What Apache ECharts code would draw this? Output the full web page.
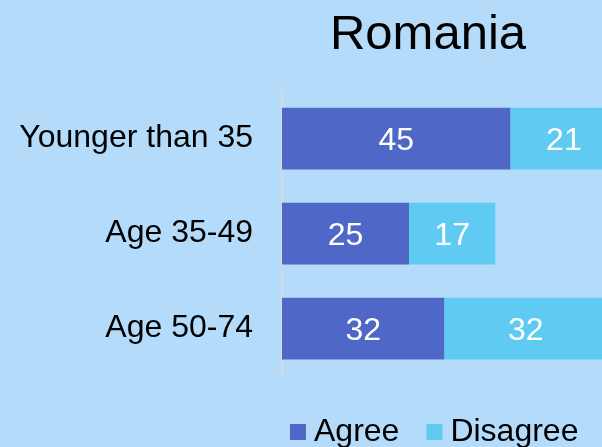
<!DOCTYPE html>
<html>
<head>
<meta charset="utf-8">
<script src="https://cdn.jsdelivr.net/npm/echarts@6/dist/echarts.min.js"></script>
<style>
  html, body { margin: 0; padding: 0; background: #b4dcfa; }
  #chart { width: 602px; height: 447px; }
</style>
</head>
<body>
<div id="chart"></div>
<script>
// Chart data
const ageGroups = ['Younger than 35', 'Age 35-49', 'Age 50-74'];
const agreeValues = [45, 25, 32];
const disagreeValues = [21, 17, 32];

const chart = echarts.init(document.getElementById('chart'));

const labelStyle = {
    show: true,
    position: 'inside',
    offset: [0, 3],
    color: '#ffffff',
    fontSize: 32,
    fontFamily: 'Liberation Sans'
};

chart.setOption({
    backgroundColor: '#b4dcfa',
    animation: false,
    title: {
        text: 'Romania',
        left: 423,
        top: 6,
        textAlign: 'center',
        textStyle: { fontSize: 49, fontWeight: 'normal', color: '#000', fontFamily: 'Liberation Sans' }
    },
    grid: { left: 282, right: 0, top: 91, height: 285 },
    xAxis: {
        type: 'value',
        min: 0,
        max: 63,
        show: false
    },
    yAxis: {
        type: 'category',
        data: ageGroups,
        inverse: true,
        axisLine: { lineStyle: { color: '#d9d9d9', width: 2 } },
        axisTick: { show: false },
        axisLabel: { margin: 29, fontSize: 32, color: '#000', fontFamily: 'Liberation Sans' }
    },
    legend: {
        top: 411,
        left: 285,
        itemWidth: 16,
        itemHeight: 16,
        itemGap: 27,
        icon: 'rect',
        textStyle: { fontSize: 32, color: '#000', fontFamily: 'Liberation Sans', padding: [0, 0, 0, 3] }
    },
    series: [
        {
            name: 'Agree',
            type: 'bar',
            stack: 'total',
            barWidth: '65%',
            clip: false,
            itemStyle: { color: '#4f68c8' },
            label: labelStyle,
            data: agreeValues
        },
        {
            name: 'Disagree',
            type: 'bar',
            stack: 'total',
            barWidth: '65%',
            clip: false,
            itemStyle: { color: '#5fcbf2' },
            label: labelStyle,
            data: disagreeValues
        }
    ]
});
</script>
</body>
</html>
